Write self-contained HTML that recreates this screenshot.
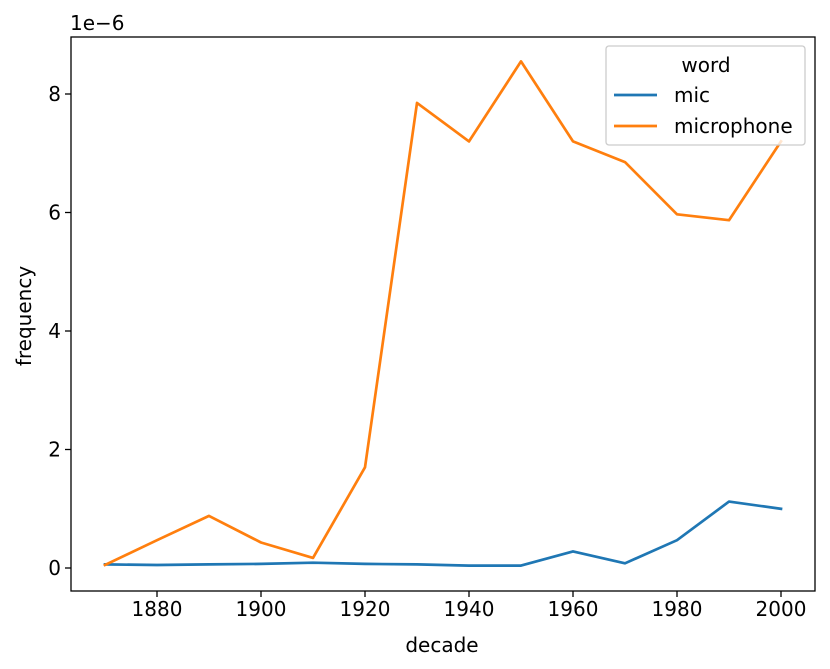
<!DOCTYPE html>
<html><head><meta charset="utf-8">
<style>
html,body{margin:0;padding:0;background:#fff;}
svg{display:block;font-family:"DejaVu Sans","Liberation Sans",sans-serif;}
</style></head>
<body>
<svg id="chart" width="830" height="669" viewBox="0 0 830 669"></svg>
<script>
const decades = [1870,1880,1890,1900,1910,1920,1930,1940,1950,1960,1970,1980,1990,2000];
const micValues = [0.06,0.05,0.06,0.07,0.09,0.07,0.06,0.04,0.04,0.28,0.08,0.47,1.12,1.0];
const microphoneValues = [0.05,0.47,0.88,0.43,0.17,1.7,7.85,7.2,8.55,7.2,6.85,5.97,5.87,7.2];
const xTicks = [1880,1900,1920,1940,1960,1980,2000];
const yTicks = [0,2,4,6,8];

const NS="http://www.w3.org/2000/svg";
const svg=document.getElementById('chart');
const L=71,R=815,T=37,B=591;
function xs(v){return 157+(v-1880)*(781-157)/120;}
function ys(v){return 568-v*(568-94)/8;}
function mk(tag,attrs,parent){const e=document.createElementNS(NS,tag);for(const k in attrs)e.setAttribute(k,attrs[k]);(parent||svg).appendChild(e);return e;}

function series(vals,color,name){
  const d=vals.map((v,i)=>(i?'L':'M')+xs(decades[i]).toFixed(1)+','+ys(v).toFixed(1)).join(' ');
  const p=mk('path',{d:d,fill:'none',stroke:color,'stroke-width':2.7,'stroke-linejoin':'round','stroke-linecap':'square'});
  
  
}
series(micValues,'#1f77b4','mic-line');
series(microphoneValues,'#ff7f0e','microphone-line');

const frame=mk('rect',{x:L,y:T,width:R-L,height:B-T,fill:'none',stroke:'#000','stroke-width':1.3});



xTicks.forEach(t=>{
  const x=xs(t);
  mk('line',{x1:x,x2:x,y1:B,y2:B+6,stroke:'#000','stroke-width':1.3});
  const tx=mk('text',{x:x,y:B+25,'text-anchor':'middle','font-size':20});
  tx.textContent=t;
  
  
});
yTicks.forEach(t=>{
  const y=ys(t);
  mk('line',{x1:L-6,x2:L,y1:y,y2:y,stroke:'#000','stroke-width':1.3});
  const tx=mk('text',{x:L-10,y:y+7,'text-anchor':'end','font-size':20});
  tx.textContent=t;
  
  
});
</script>
<svg style="position:absolute;left:0;top:0" width="830" height="669" font-family="DejaVu Sans,Liberation Sans,sans-serif">
<text x="70" y="30" font-size="20">1e−6</text>
<text x="442" y="652" font-size="20" text-anchor="middle">decade</text>
<text transform="translate(31,316) rotate(-90)" font-size="20" text-anchor="middle">frequency</text>
<g font-size="20">
<rect x="606" y="46" width="199" height="99" rx="3" fill="#fff" fill-opacity="0.8" stroke="#ccc" stroke-width="1.3"/>
<text x="706" y="72" text-anchor="middle">word</text>
<line x1="614" x2="657" y1="95" y2="95" stroke="#1f77b4" stroke-width="2.7"/>
<text x="674" y="102">mic</text>
<line x1="614" x2="657" y1="126" y2="126" stroke="#ff7f0e" stroke-width="2.7"/>
<text x="674" y="133">microphone</text>
</g>
</svg>
</body></html>
